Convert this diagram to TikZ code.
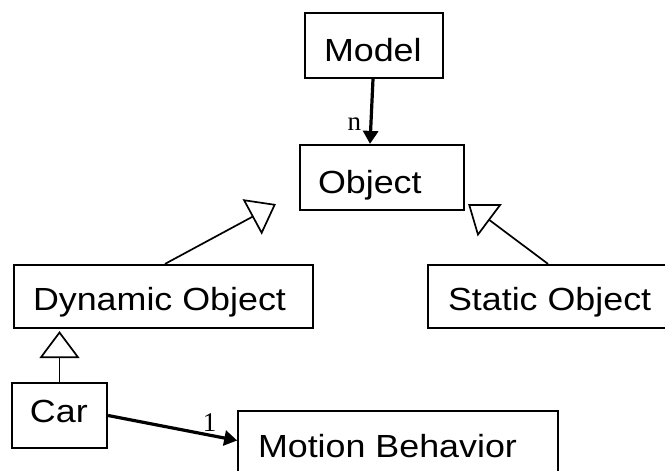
\documentclass[tikz,border=0pt]{standalone}
\usepackage{fontspec}
\setmainfont{Liberation Sans}[FakeStretch=1.12]
\newfontfamily\multfont{Liberation Serif}
\usetikzlibrary{positioning,arrows.meta}
\usetikzlibrary{calc}

% box text, left padded: {box width}{left pad}{text}
\newcommand{\classText}[3]{\makebox[#1][l]{\hspace{#2}#3}}

\begin{document}
\begin{tikzpicture}[x=1pt,y=-1pt]
  \tikzstyle{classBox} = [
    % The shape:
    rectangle, minimum height=65pt, inner xsep=0pt,
    text height=29pt, text depth=0pt,
    % The border:
    draw=black, line width=2.2pt,
    % Font:
    font=\fontsize{32}{36}\selectfont
  ];
  \tikzstyle{association} = [
    draw = black,
    line width=3.2pt,
    -{Triangle[length=13pt,width=15pt]}
  ];
  \tikzstyle{generalization} = [
    draw = black,
    line width=1.7pt,
    -{Triangle[open,length=27pt,width=40pt,fill=white]}
  ];
  \tikzstyle{multiplicity} = [
    % Just text!
    font=\multfont\fontsize{27}{30}\selectfont, inner sep=0pt
  ];

  \useasboundingbox (0,0) rectangle (665,471);

  \node [classBox, text height=31pt] (model) at (374,45.5) {\classText{138pt}{19pt}{Model}};
  \node [classBox, text height=31pt] (object) at (382,177.5) {\classText{164pt}{18pt}{Object}};
  \node [classBox, minimum height=63pt, text height=27pt] (dynamicObject) at (163.5,296.5) {\classText{299pt}{19pt}{Dynamic Object}};
  \node [classBox, minimum height=63pt, text height=27pt] (staticObject) at (549.5,296.5) {\classText{243pt}{20pt}{Static Object}};
  \node [classBox, text height=13pt] (car) at (59.5,415.5) {\classText{95pt}{18pt}{Car}};
  \node [classBox, minimum height=67pt, line width=1.6pt, text height=25pt] (motionBehavior) at (398,444.5) {\classText{320pt}{20pt}{Motion Behavior}};

  \path [association] ([xshift=-1pt]model.south) to node[multiplicity,pos=0.79,anchor=base east,xshift=-8pt]{n}
                      ([xshift=-12pt]object.north);
  \path [association] (car.east) to node[multiplicity,pos=0.786,anchor=base,yshift=4pt]{1}
                      ([yshift=4pt]motionBehavior.west);

  \path [generalization] ([xshift=1.5pt]dynamicObject.north) to ([xshift=-23pt,yshift=7pt]object.south west);
  \path [generalization] ([xshift=-1.5pt]staticObject.north) to ([xshift=3pt,yshift=7pt]object.south east);
  \path [generalization] (car.north) to ([yshift=-2pt]dynamicObject.south -| car.north);
\end{tikzpicture}
\end{document}
